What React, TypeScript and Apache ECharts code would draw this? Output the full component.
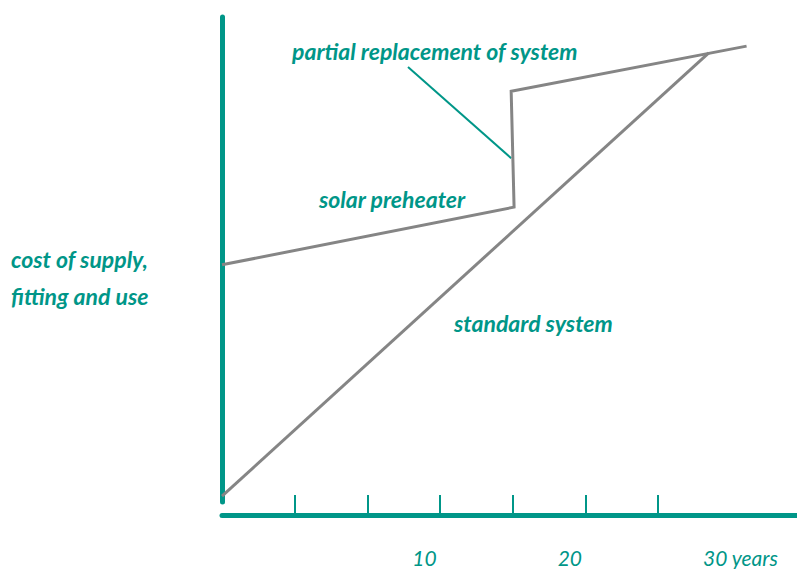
import React, { useEffect, useRef } from "react";
import * as echarts from "echarts";

const TEAL = "#009688";
const GREY = "#858585";
const FONT = "Lato, 'Open Sans', sans-serif";

// x in years-scale units, y in cost units (0..100)
const standardX = [0, 33.5];
const standardY = [1.2, 92.6];
const solarX = [0, 20.1, 19.9, 36.1];
const solarY = [48.9, 60.8, 84.7, 94.0];
const leaderX = [12.8, 19.9];
const leaderY = [89.7, 70.9];
const tickValues = [5, 10, 15, 20, 25, 30];
const labelValues = [10, 20, 30];
const annotations = [
  { text: "partial replacement of system", x: 292, y: 51 },
  { text: "solar preheater", x: 319, y: 199 },
  { text: "standard system", x: 454, y: 323 },
  { text: "cost of supply,", x: 11, y: 259 },
  { text: "fitting and use", x: 11, y: 296 },
];

const pairs = (xs: number[], ys: number[]) => xs.map((x, i) => [x, ys[i]]);

export default function App() {
  const ref = useRef<HTMLDivElement>(null);
  useEffect(() => {
    if (!ref.current) return;
    const chart = echarts.init(ref.current, null, { renderer: "svg" });
    chart.setOption({
      animation: false,
      backgroundColor: "#ffffff",
      grid: { left: 222, right: 0, top: 17, bottom: 67, containLabel: false },
      xAxis: [
        {
          type: "value",
          min: 0,
          max: 39.57,
          position: "bottom",
          offset: 13,
          axisLine: { show: true, onZero: false, lineStyle: { color: TEAL, width: 5 } },
          axisTick: {
            show: true,
            inside: true,
            length: 20,
            customValues: tickValues,
            lineStyle: { color: TEAL, width: 2 },
          },
          axisLabel: { show: false },
          splitLine: { show: false },
        },
        {
          type: "value",
          min: -3.1,
          max: 36.47,
          position: "bottom",
          offset: 13,
          axisLine: { show: false },
          axisTick: { show: false },
          splitLine: { show: false },
          axisLabel: {
            show: true,
            customValues: labelValues,
            formatter: (v: number) => (v === 30 ? "30 years" : String(v)),
            align: "left",
            margin: 32,
            color: TEAL,
            fontFamily: FONT,
            fontStyle: "italic",
            fontSize: 21,
          },
        },
      ],
      yAxis: {
        type: "value",
        min: 0,
        max: 100,
        axisLine: { show: true, lineStyle: { color: TEAL, width: 5 } },
        axisTick: { show: false },
        axisLabel: { show: false },
        splitLine: { show: false },
      },
      series: [
        {
          type: "line",
          data: pairs(standardX, standardY),
          symbol: "none",
          lineStyle: { color: GREY, width: 3 },
          z: 3,
        },
        {
          type: "line",
          data: pairs(solarX, solarY),
          symbol: "none",
          lineStyle: { color: GREY, width: 3, join: "miter" },
          z: 3,
        },
        {
          type: "line",
          data: pairs(leaderX, leaderY),
          symbol: "none",
          lineStyle: { color: TEAL, width: 2 },
          z: 2,
        },
      ],
      graphic: annotations.map((a) => ({
        type: "text",
        x: a.x,
        y: a.y,
        style: {
          text: a.text,
          fill: TEAL,
          font: `italic bold 23px ${FONT}`,
          textAlign: "left",
          textVerticalAlign: "middle",
        },
      })),
    });
    return () => chart.dispose();
  }, []);
  return (
    <div
      ref={ref}
      style={{ position: "fixed", left: 0, top: 0, width: 797, height: 569 }}
    />
  );
}
